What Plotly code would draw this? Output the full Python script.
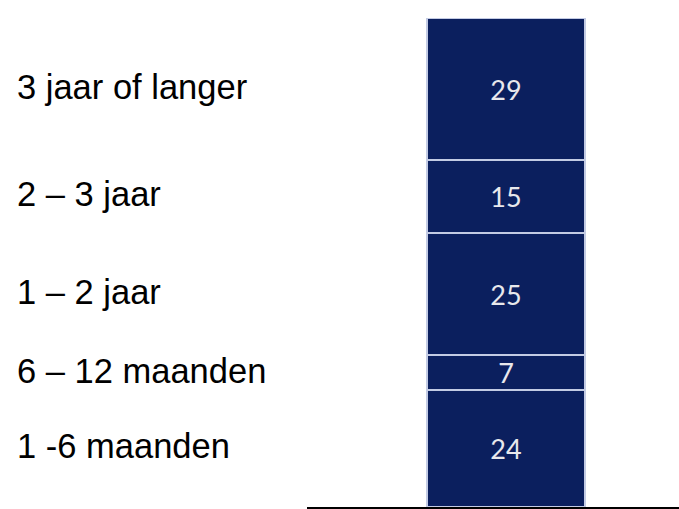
import plotly.graph_objects as go

categories = ["1 -6 maanden", "6 – 12 maanden", "1 – 2 jaar", "2 – 3 jaar", "3 jaar of langer"]
values = [24, 7, 25, 15, 29]

BAR_COLOR = "#0b1f5e"
DIVIDER = "#c3cbe4"

fig = go.Figure()
for cat, v in zip(categories, values):
    fig.add_trace(go.Bar(
        x=[0], y=[v], name=cat, width=1,
        marker=dict(color=BAR_COLOR, line=dict(color=DIVIDER, width=2)),
        text=[str(v)], textposition="inside", insidetextanchor="middle",
        textangle=0, constraintext="none",
        textfont=dict(family="Lato, Open Sans, sans-serif", size=27, color="#e8e8ec"),
        showlegend=False, hoverinfo="skip",
    ))

# left-hand category labels at segment midpoints
cum = 0
for cat, v in zip(categories, values):
    mid = cum + v / 2
    cum += v
    fig.add_annotation(
        text=cat, xref="paper", yref="y", x=-0.784, y=mid,
        xanchor="left", yanchor="middle", showarrow=False, yshift=2,
        font=dict(family="Liberation Sans, Arial, sans-serif", size=34.5, color="#000000"),
    )

fig.update_layout(
    barmode="stack",
    width=679, height=509,
    margin=dict(l=307, r=0, t=18, b=2),
    paper_bgcolor="white", plot_bgcolor="white",
    xaxis=dict(range=[-1.26, 1.095], showgrid=False, zeroline=False,
               showticklabels=False, ticks="", showline=True,
               linecolor="#000000", linewidth=2.5, fixedrange=True),
    yaxis=dict(range=[0, 100], showgrid=False, zeroline=False,
               showticklabels=False, ticks="", showline=False, fixedrange=True),
    bargap=0,
)

fig.write_html("out.html", config={"displayModeBar": False},
               post_script="document.body.style.margin='0';document.body.style.overflow='hidden';")
